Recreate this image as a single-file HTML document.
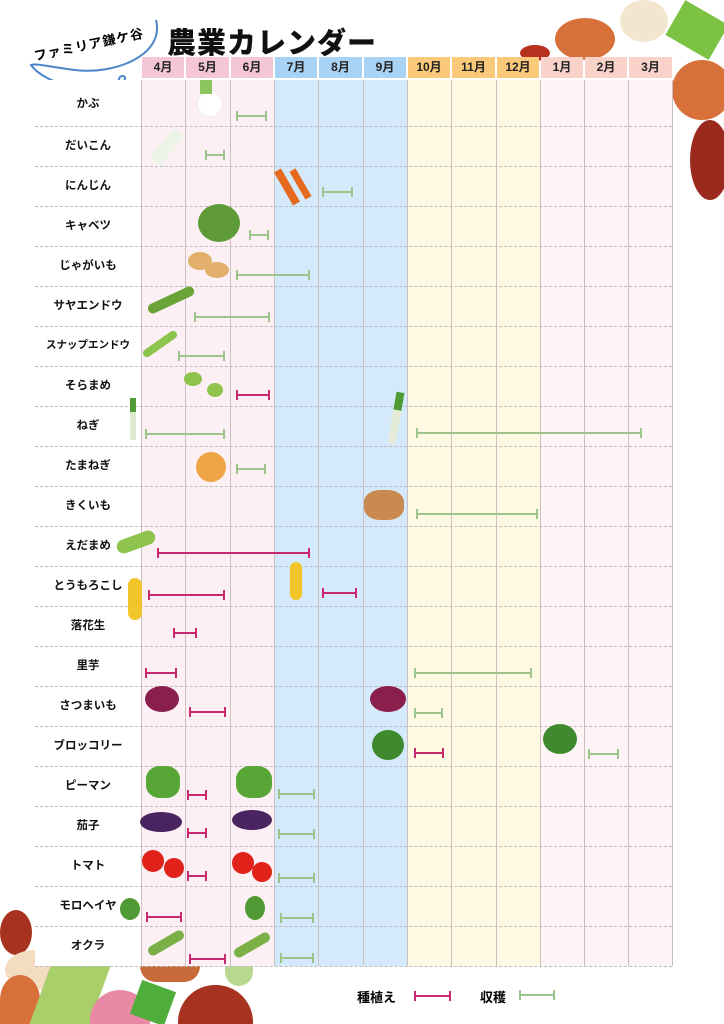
<!DOCTYPE html>
<html><head><meta charset="utf-8"><style>
*{margin:0;padding:0;box-sizing:border-box}
html{width:724px;height:1024px;overflow:hidden}
body{width:724px;height:1024px;position:relative;overflow:hidden;background:#fff;font-family:"Liberation Sans","Noto Sans CJK JP",sans-serif}
.a{position:absolute}
.h{position:absolute;top:57px;height:21px;font-size:12px;font-weight:bold;text-align:center;line-height:21px;color:#222}
.c{position:absolute;top:80px;height:886px}
.v{position:absolute;top:80px;height:886px;width:1px;background:#cbbfbf}
.d{position:absolute;left:35px;width:637px;height:0;border-top:1px dashed #bbb}
.l{position:absolute;left:35px;width:106px;text-align:center;font-size:11.5px;font-weight:bold;color:#111}
.b{position:absolute;height:2px}
.b:before,.b:after{content:"";position:absolute;top:-4px;width:2px;height:10px;background:inherit}
.b:before{left:0}.b:after{right:0}
.s{background:#c8286e}.g{background:#9cc48b}
</style></head><body>
<!-- decorations top right -->
<div class="a" style="left:555px;top:18px;width:60px;height:42px;border-radius:50%;background:#d8703a"></div>
<div class="a" style="left:620px;top:0;width:48px;height:42px;border-radius:50%;background:#f3e6cf"></div>
<div class="a" style="left:672px;top:60px;width:60px;height:60px;border-radius:50%;background:#d8703a"></div>
<div class="a" style="left:690px;top:120px;width:40px;height:80px;border-radius:50%;background:#9a2a1e"></div>
<div class="a" style="left:672px;top:10px;width:50px;height:40px;background:#7cc243;transform:rotate(30deg)"></div>
<div class="a" style="left:520px;top:45px;width:30px;height:16px;border-radius:50%;background:#b8301e"></div>
<!-- decorations bottom left -->
<div class="a" style="left:0;top:910px;width:32px;height:45px;border-radius:50%;background:#a83220"></div>
<div class="a" style="left:5px;top:950px;width:60px;height:40px;border-radius:50%;background:#f3dcc0"></div>
<div class="a" style="left:0;top:975px;width:40px;height:49px;border-radius:50% 50% 0 0;background:#d8703a"></div>
<div class="a" style="left:40px;top:966px;width:60px;height:58px;background:#a9cf6a;transform:skewX(-20deg)"></div>
<div class="a" style="left:90px;top:990px;width:60px;height:34px;border-radius:30px 30px 0 0;background:#e889a6"></div>
<div class="a" style="left:140px;top:966px;width:60px;height:16px;border-radius:0 0 30px 30px;background:#c86a3a"></div>
<div class="a" style="left:135px;top:985px;width:36px;height:36px;background:#4fae3a;transform:rotate(20deg)"></div>
<div class="a" style="left:178px;top:985px;width:75px;height:39px;border-radius:37px 37px 0 0;background:#a83220"></div>
<div class="a" style="left:225px;top:966px;width:28px;height:20px;border-radius:0 0 14px 14px;background:#b8d890"></div>
<!-- badge -->
<svg class="a" style="left:25px;top:15px" width="140" height="80"><path d="M131 5 C140 40 90 60 50 55 C25 52 10 48 6 50 C20 70 70 80 90 72 C105 66 100 58 95 62 C90 70 100 78 106 70" fill="none" stroke="#4a86c8" stroke-width="2"/></svg>
<div class="a" style="left:32px;top:46px;font-size:13px;font-weight:bold;transform:rotate(-12deg);transform-origin:left top;letter-spacing:1px">ファミリア鎌ケ谷</div>
<div class="a" style="left:167px;top:20px;font-size:29px;font-weight:900;letter-spacing:1px;color:#111">農業カレンダー</div>
<!-- body columns -->
<div class="c" style="left:141px;width:133px;background:#fdf0f5"></div>
<div class="c" style="left:274px;width:133px;background:#d4e9fb"></div>
<div class="c" style="left:407px;width:133px;background:#fef9e2"></div>
<div class="c" style="left:540px;width:132px;background:#fff4f5"></div>
<div class="a" style="left:35px;top:80px;width:106px;height:886px;background:#fff"></div>
<!-- headers -->
<div class="h" style="left:142px;width:42px;background:#f5c6d6">4月</div>
<div class="h" style="left:186px;width:43px;background:#f5c6d6">5月</div>
<div class="h" style="left:231px;width:42px;background:#f5c6d6">6月</div>
<div class="h" style="left:275px;width:42px;background:#a9d3f5">7月</div>
<div class="h" style="left:319px;width:43px;background:#a9d3f5">8月</div>
<div class="h" style="left:364px;width:42px;background:#a9d3f5">9月</div>
<div class="h" style="left:408px;width:42px;background:#fbc97a">10月</div>
<div class="h" style="left:452px;width:43px;background:#fbc97a">11月</div>
<div class="h" style="left:497px;width:42px;background:#fbc97a">12月</div>
<div class="h" style="left:541px;width:42px;background:#f9d3ca">1月</div>
<div class="h" style="left:585px;width:42px;background:#f9d3ca">2月</div>
<div class="h" style="left:629px;width:43px;background:#f9d3ca">3月</div>
<!-- vertical lines -->
<div class="v" style="left:141px"></div><div class="v" style="left:185px"></div><div class="v" style="left:230px"></div><div class="v" style="left:274px"></div><div class="v" style="left:318px"></div><div class="v" style="left:363px"></div><div class="v" style="left:407px"></div><div class="v" style="left:451px"></div><div class="v" style="left:496px"></div><div class="v" style="left:540px"></div><div class="v" style="left:584px"></div><div class="v" style="left:628px"></div><div class="v" style="left:672px"></div>
<!-- dashed -->
<div class="d" style="top:126px"></div><div class="d" style="top:166px"></div><div class="d" style="top:206px"></div><div class="d" style="top:246px"></div><div class="d" style="top:286px"></div><div class="d" style="top:326px"></div><div class="d" style="top:366px"></div><div class="d" style="top:406px"></div><div class="d" style="top:446px"></div><div class="d" style="top:486px"></div><div class="d" style="top:526px"></div><div class="d" style="top:566px"></div><div class="d" style="top:606px"></div><div class="d" style="top:646px"></div><div class="d" style="top:686px"></div><div class="d" style="top:726px"></div><div class="d" style="top:766px"></div><div class="d" style="top:806px"></div><div class="d" style="top:846px"></div><div class="d" style="top:886px"></div><div class="d" style="top:926px"></div><div class="d" style="top:966px"></div>
<!-- labels -->
<div class="l" style="top:95px">かぶ</div>
<div class="l" style="top:137px">だいこん</div>
<div class="l" style="top:177px">にんじん</div>
<div class="l" style="top:217px">キャベツ</div>
<div class="l" style="top:257px">じゃがいも</div>
<div class="l" style="top:297px">サヤエンドウ</div>
<div class="l" style="top:337px;font-size:10.5px">スナップエンドウ</div>
<div class="l" style="top:377px">そらまめ</div>
<div class="l" style="top:417px">ねぎ</div>
<div class="l" style="top:457px">たまねぎ</div>
<div class="l" style="top:497px">きくいも</div>
<div class="l" style="top:537px">えだまめ</div>
<div class="l" style="top:577px">とうもろこし</div>
<div class="l" style="top:617px">落花生</div>
<div class="l" style="top:657px">里芋</div>
<div class="l" style="top:697px">さつまいも</div>
<div class="l" style="top:737px">ブロッコリー</div>
<div class="l" style="top:777px">ピーマン</div>
<div class="l" style="top:817px">茄子</div>
<div class="l" style="top:857px">トマト</div>
<div class="l" style="top:897px">モロヘイヤ</div>
<div class="l" style="top:937px">オクラ</div>
<!-- vegetable illustrations (simplified) -->
<div class="a" style="left:198px;top:92px;width:24px;height:24px;border-radius:50%;background:#fff;box-shadow:0 0 0 1px #eee"></div>
<div class="a" style="left:200px;top:80px;width:12px;height:14px;background:#8cc460"></div>
<div class="a" style="left:160px;top:128px;width:14px;height:38px;background:#eef3e8;transform:rotate(40deg)"></div>
<div class="a" style="left:283px;top:168px;width:8px;height:38px;background:#e66a1e;transform:rotate(-30deg)"></div>
<div class="a" style="left:297px;top:168px;width:7px;height:32px;background:#e66a1e;transform:rotate(-30deg)"></div>
<div class="a" style="left:198px;top:204px;width:42px;height:38px;border-radius:50%;background:#5e9a38"></div>
<div class="a" style="left:188px;top:252px;width:24px;height:18px;border-radius:50%;background:#e2b06a"></div>
<div class="a" style="left:205px;top:262px;width:24px;height:16px;border-radius:50%;background:#e2b06a"></div>
<div class="a" style="left:146px;top:295px;width:50px;height:10px;border-radius:5px;background:#6aa438;transform:rotate(-25deg)"></div>
<div class="a" style="left:140px;top:340px;width:40px;height:8px;border-radius:4px;background:#8ec44e;transform:rotate(-35deg)"></div>
<div class="a" style="left:184px;top:372px;width:18px;height:14px;border-radius:50%;background:#8ec44e"></div>
<div class="a" style="left:207px;top:383px;width:16px;height:14px;border-radius:50%;background:#8ec44e"></div>
<div class="a" style="left:130px;top:398px;width:6px;height:42px;background:#dfe9cf;border-top:14px solid #4f9a34"></div>
<div class="a" style="left:392px;top:392px;width:8px;height:52px;background:#e4ecd8;border-top:18px solid #4f9a34;transform:rotate(10deg)"></div>
<div class="a" style="left:196px;top:452px;width:30px;height:30px;border-radius:50%;background:#efa545"></div>
<div class="a" style="left:364px;top:490px;width:40px;height:30px;border-radius:40%;background:#c98a50"></div>
<div class="a" style="left:116px;top:535px;width:40px;height:14px;border-radius:7px;background:#8ec44e;transform:rotate(-20deg)"></div>
<div class="a" style="left:128px;top:578px;width:14px;height:42px;border-radius:7px;background:#f2c52a"></div>
<div class="a" style="left:290px;top:562px;width:12px;height:38px;border-radius:6px;background:#f2c52a"></div>
<div class="a" style="left:145px;top:686px;width:34px;height:26px;border-radius:50%;background:#8a1f4e"></div>
<div class="a" style="left:370px;top:686px;width:36px;height:26px;border-radius:50%;background:#8a1f4e"></div>
<div class="a" style="left:372px;top:730px;width:32px;height:30px;border-radius:50%;background:#3f8a2e"></div>
<div class="a" style="left:543px;top:724px;width:34px;height:30px;border-radius:50%;background:#3f8a2e"></div>
<div class="a" style="left:146px;top:766px;width:34px;height:32px;border-radius:40%;background:#58a635"></div>
<div class="a" style="left:236px;top:766px;width:36px;height:32px;border-radius:40%;background:#58a635"></div>
<div class="a" style="left:140px;top:812px;width:42px;height:20px;border-radius:50%;background:#4a2460"></div>
<div class="a" style="left:232px;top:810px;width:40px;height:20px;border-radius:50%;background:#4a2460"></div>
<div class="a" style="left:142px;top:850px;width:22px;height:22px;border-radius:50%;background:#e0221b"></div>
<div class="a" style="left:164px;top:858px;width:20px;height:20px;border-radius:50%;background:#e0221b"></div>
<div class="a" style="left:232px;top:852px;width:22px;height:22px;border-radius:50%;background:#e0221b"></div>
<div class="a" style="left:252px;top:862px;width:20px;height:20px;border-radius:50%;background:#e0221b"></div>
<div class="a" style="left:120px;top:898px;width:20px;height:22px;border-radius:50%;background:#4f9a34"></div>
<div class="a" style="left:245px;top:896px;width:20px;height:24px;border-radius:50%;background:#4f9a34"></div>
<div class="a" style="left:146px;top:938px;width:40px;height:10px;border-radius:5px;background:#7bb046;transform:rotate(-30deg)"></div>
<div class="a" style="left:232px;top:940px;width:40px;height:10px;border-radius:5px;background:#7bb046;transform:rotate(-30deg)"></div>
<!-- bars -->
<div class="b g" style="left:236px;top:115px;width:31px"></div>
<div class="b g" style="left:205px;top:154px;width:20px"></div>
<div class="b g" style="left:322px;top:191px;width:31px"></div>
<div class="b g" style="left:249px;top:234px;width:20px"></div>
<div class="b g" style="left:236px;top:274px;width:74px"></div>
<div class="b g" style="left:194px;top:316px;width:76px"></div>
<div class="b g" style="left:178px;top:355px;width:47px"></div>
<div class="b s" style="left:236px;top:394px;width:34px"></div>
<div class="b g" style="left:145px;top:433px;width:80px"></div>
<div class="b g" style="left:416px;top:432px;width:226px"></div>
<div class="b g" style="left:236px;top:468px;width:30px"></div>
<div class="b g" style="left:416px;top:513px;width:122px"></div>
<div class="b s" style="left:157px;top:552px;width:153px"></div>
<div class="b s" style="left:148px;top:594px;width:77px"></div>
<div class="b s" style="left:322px;top:592px;width:35px"></div>
<div class="b s" style="left:173px;top:632px;width:24px"></div>
<div class="b s" style="left:145px;top:672px;width:32px"></div>
<div class="b g" style="left:414px;top:672px;width:118px"></div>
<div class="b s" style="left:189px;top:711px;width:37px"></div>
<div class="b g" style="left:414px;top:712px;width:29px"></div>
<div class="b s" style="left:414px;top:752px;width:30px"></div>
<div class="b g" style="left:588px;top:753px;width:31px"></div>
<div class="b s" style="left:187px;top:794px;width:20px"></div>
<div class="b g" style="left:278px;top:793px;width:37px"></div>
<div class="b s" style="left:187px;top:832px;width:20px"></div>
<div class="b g" style="left:278px;top:833px;width:37px"></div>
<div class="b s" style="left:187px;top:875px;width:20px"></div>
<div class="b g" style="left:278px;top:877px;width:37px"></div>
<div class="b s" style="left:146px;top:916px;width:36px"></div>
<div class="b g" style="left:280px;top:917px;width:34px"></div>
<div class="b s" style="left:189px;top:958px;width:37px"></div>
<div class="b g" style="left:280px;top:957px;width:34px"></div>
<!-- legend -->
<div class="a" style="left:357px;top:987px;font-size:13px;font-weight:bold">種植え</div>
<div class="b s" style="left:414px;top:995px;width:37px"></div>
<div class="a" style="left:480px;top:987px;font-size:13px;font-weight:bold">収穫</div>
<div class="b g" style="left:519px;top:994px;width:36px"></div>
</body></html>
